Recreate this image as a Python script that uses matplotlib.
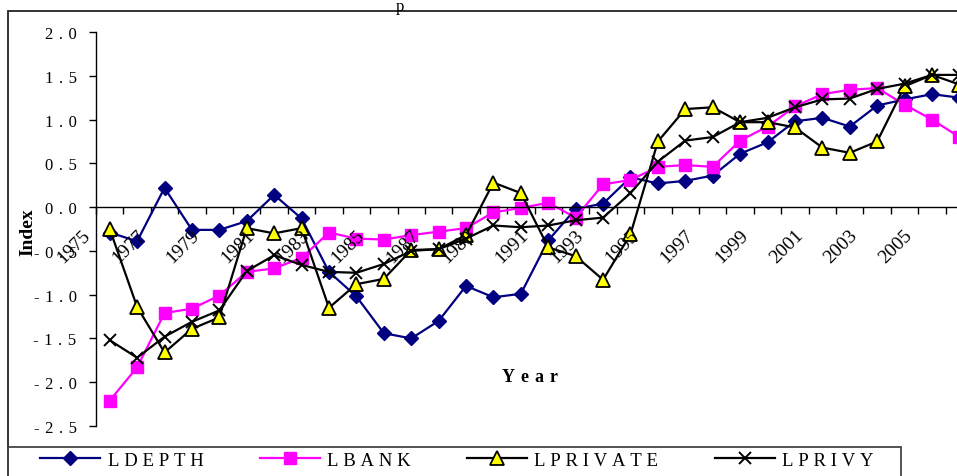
import numpy as np
import matplotlib
matplotlib.use("Agg")
import matplotlib.pyplot as plt
from matplotlib.transforms import ScaledTranslation
from matplotlib.patches import Rectangle

plt.rcParams['font.family'] = ['Liberation Serif', 'DejaVu Serif']

# ---------------- data ----------------
years = list(range(1975, 2007))
ldepth = [-0.29, -0.39, 0.22, -0.26, -0.26, -0.16, 0.14, -0.13, -0.74, -1.02,
          -1.44, -1.50, -1.30, -0.90, -1.03, -0.99, -0.38, -0.02, 0.04, 0.34,
          0.27, 0.30, 0.36, 0.61, 0.74, 0.98, 1.02, 0.92, 1.16, 1.23, 1.29, 1.25]
lbank = [-2.21, -1.83, -1.21, -1.16, -1.01, -0.74, -0.70, -0.58, -0.29, -0.36,
         -0.37, -0.32, -0.28, -0.24, -0.06, -0.01, 0.05, -0.12, 0.26, 0.31,
         0.46, 0.48, 0.46, 0.76, 0.92, 1.15, 1.29, 1.34, 1.36, 1.17, 1.00, 0.80]
lprivate = [-0.25, -1.14, -1.66, -1.39, -1.26, -0.24, -0.30, -0.24, -1.15, -0.88,
            -0.82, -0.49, -0.48, -0.32, 0.28, 0.16, -0.46, -0.56, -0.83, -0.31,
            0.75, 1.12, 1.14, 0.97, 0.97, 0.91, 0.68, 0.62, 0.75, 1.38, 1.51, 1.40]
lprivy = [-1.52, -1.72, -1.48, -1.31, -1.18, -0.73, -0.55, -0.66, -0.74, -0.75,
          -0.65, -0.50, -0.48, -0.36, -0.21, -0.23, -0.21, -0.15, -0.12, 0.16,
          0.52, 0.76, 0.80, 0.97, 1.02, 1.14, 1.23, 1.24, 1.35, 1.41, 1.51, 1.51]
series_names = ["LDEPTH", "LBANK", "LPRIVATE", "LPRIVY"]
ytick_vals = [2.0, 1.5, 1.0, 0.5, 0.0, -0.5, -1.0, -1.5, -2.0, -2.5]
ytick_labels = ["2.0", "1.5", "1.0", "0.5", "0.0", "-0.5", "-1.0", "-1.5", "-2.0", "-2.5"]
xlabel_years = [str(y) for y in years[::2]]

SP3 = "\u2004"
SP4 = "\u2005"


def spaced(s, sp):
    return sp.join(s)


W, H = 957, 477
fig = plt.figure(figsize=(W / 100, H / 100), dpi=100)

cat_w = 27.41
n_cat = 33
ax = fig.add_axes([96 / W, 50 / H, n_cat * cat_w / W, 394 / H])

x = np.arange(len(years)) + 0.5
ax.plot(x, ldepth, color="#000080", lw=1.6, marker="D", ms=7,
        mfc="#000080", mec="#000080", label=spaced(series_names[0], SP4), clip_on=False)
ax.plot(x, lbank, color="#FF00FF", lw=1.6, marker="s", ms=8,
        mfc="#FF00FF", mec="#FF00FF", label=spaced(series_names[1], SP4), clip_on=False)
ax.plot(x, lprivate, color="black", lw=1.6, marker="^", ms=9.5,
        mfc="#FFFF00", mec="black", mew=1.3, label=spaced(series_names[2], SP4), clip_on=False)
ax.plot(x, lprivy, color="black", lw=1.6, marker="x", ms=9,
        mec="black", mew=1.4, label=spaced(series_names[3], SP4), clip_on=False)

ax.set_xlim(0, n_cat)
ax.set_ylim(-2.5, 2.0)

for s in ["top", "right"]:
    ax.spines[s].set_visible(False)
ax.spines["bottom"].set_position(("data", 0))
ax.spines["bottom"].set_linewidth(1.0)
ax.spines["left"].set_linewidth(1.0)

ax.set_yticks(ytick_vals)
ax.set_yticklabels([spaced(t, SP3) for t in ytick_labels], fontsize=12)
ax.tick_params(axis="y", direction="out", length=5, width=1, pad=9)
ax.set_xticks(np.arange(0, n_cat + 1))
ax.set_xticklabels([])
ax.tick_params(axis="x", direction="out", length=5, width=1)

off = ScaledTranslation(-36 / 100, -39 / 100, fig.dpi_scale_trans)
for i, lab in enumerate(xlabel_years):
    ax.text(2 * i + 0.5, 0, lab, transform=ax.transData + off,
            rotation=45, rotation_mode="anchor", ha="center", va="center",
            fontsize=14, clip_on=False)

fig.text(28 / W, 1 - 232 / H, "Index", rotation=90, ha="center", va="center",
         fontsize=14, fontweight="bold")
fig.text(530 / W, 1 - 378 / H, spaced("Year", SP3), ha="center", va="center",
         fontsize=13, fontweight="bold")

# fragment of the title, which is cut off above the picture in the reference
fig.text(400 / W, 1 - 11 / H, "p", ha="center", va="baseline", fontsize=12)

# outer chart border and legend frame (both run off the picture)
fig.add_artist(Rectangle((8 / W, -0.2), 2.0, 1.2 - 12 / H, transform=fig.transFigure,
                         fill=False, lw=1.3, ec="#222222"))
fig.add_artist(Rectangle((8 / W, -0.2), (901 - 8) / W, 0.2 + (477 - 448) / H,
                         transform=fig.transFigure, fill=False, lw=1.3, ec="#444444"))

fig.legend(loc="center left", bbox_to_anchor=(40 / W, 1 - 461 / H), ncol=4,
           frameon=False, fontsize=13.5, handlelength=3.2, handletextpad=0.4,
           columnspacing=3.0, borderpad=0, borderaxespad=0)

fig.savefig("out.png", dpi=100)
